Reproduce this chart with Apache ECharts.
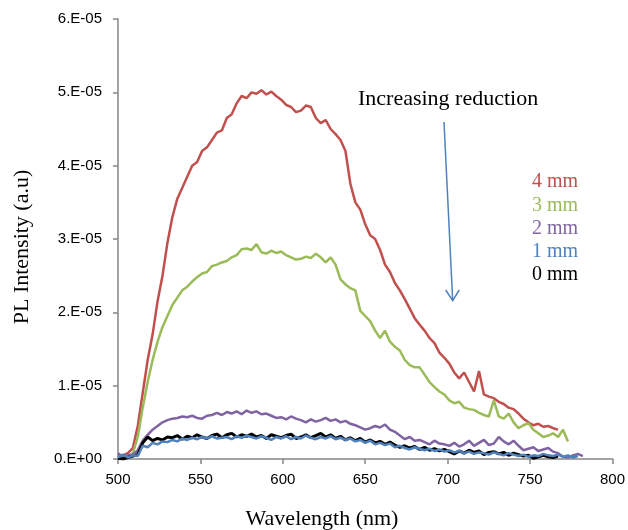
<!DOCTYPE html>
<html><head><meta charset="utf-8">
<script src="https://cdn.jsdelivr.net/npm/echarts@6/dist/echarts.min.js"></script>
<style>html,body{margin:0;padding:0;background:#fff}#c{width:628px;height:530px}</style>
</head><body><div id="c"></div>
<script>
// Wavelength grid (nm), shared by all series; each series covers a prefix of it
const wavelengths = [];
for (let w = 500; w <= 782; w += 3) wavelengths.push(w);
// Values in units of 1E-06 (a.u.)
const UNIT = 1e-6;
const mm4 = [0.3,0.5,0.8,1.5,4.5,9.0,13.5,17.0,21.5,25.0,29.5,33.0,35.5,37.0,38.5,40.0,40.5,42.0,42.5,43.5,44.5,44.8,46.5,47.0,48.5,49.5,49.2,50.0,49.8,50.3,49.7,50.1,49.5,49.0,48.3,48.0,47.3,47.5,48.2,48.0,46.5,45.8,46.2,45.0,44.3,43.5,42.0,37.5,35.0,34.0,32.0,30.5,30.0,28.5,26.5,25.5,24.0,23.0,21.8,20.5,19.2,18.3,17.5,16.5,15.8,14.5,13.8,13.0,11.8,11.0,11.8,10.5,9.2,12.0,8.8,8.5,8.3,7.8,7.5,7.0,6.8,6.2,5.5,5.0,4.6,4.8,4.4,4.5,4.2,4.0];
const mm3 = [0.1,0.0,0.2,0.8,3.0,7.0,10.5,13.5,16.0,18.0,19.5,21.0,22.0,23.0,23.5,24.2,24.8,25.3,25.5,26.3,26.5,26.8,27.0,27.5,27.8,28.6,28.7,28.5,29.3,28.2,28.0,28.4,28.1,28.3,27.8,27.5,27.2,27.3,27.6,27.4,28.0,27.5,26.8,27.5,26.5,24.5,23.8,23.3,23.0,20.2,19.5,18.8,17.5,16.5,17.5,16.0,15.3,14.8,13.5,12.8,12.5,12.5,11.5,10.5,9.8,9.2,8.8,8.0,7.6,7.8,7.0,6.8,6.7,6.3,6.0,5.8,8.0,5.8,5.5,6.2,5.0,4.2,4.6,4.9,4.0,3.5,3.0,3.2,3.5,3.0,4.0,2.4];
const mm2 = [0.8,0.3,0.5,0.6,1.2,2.5,3.3,4.0,4.5,5.0,5.3,5.5,5.6,5.8,5.7,5.9,5.6,5.5,5.9,6.0,6.3,6.0,6.4,6.2,6.5,6.1,6.6,6.3,6.5,6.1,6.2,5.9,5.6,5.7,5.4,5.8,5.5,5.3,5.0,5.4,5.1,5.3,5.6,5.2,5.4,5.0,5.2,4.8,4.6,4.3,4.0,4.2,4.5,4.3,4.7,4.0,3.7,3.2,2.7,3.0,2.5,2.6,2.3,2.0,2.5,2.1,2.0,1.8,2.2,1.7,2.0,2.5,1.8,2.2,2.6,1.9,2.1,3.0,2.4,2.0,2.5,1.8,1.2,1.4,1.6,1.1,1.3,1.5,1.0,0.8,0.3,0.2,0.5,0.7,0.4];
const mm1 = [0.2,0.6,0.2,0.5,0.4,1.8,1.6,2.2,2.0,2.4,2.3,2.6,2.4,2.8,2.6,2.9,2.7,3.0,2.8,3.1,2.8,2.9,3.0,2.7,3.1,2.9,3.2,3.0,2.8,3.1,2.9,2.6,3.0,2.8,3.1,2.7,3.0,2.8,3.2,2.9,2.7,3.0,2.8,3.1,2.7,2.9,2.6,2.8,2.4,2.6,2.2,2.5,2.0,2.2,1.9,2.1,1.6,1.8,1.5,1.3,1.6,1.4,1.2,1.4,1.1,1.3,1.0,1.2,0.9,1.1,0.8,1.0,0.7,0.9,0.8,0.6,0.9,0.7,0.5,0.8,0.6,0.4,0.6,0.3,0.5,0.4,0.7,0.5,0.4,0.6,0.3,0.5,0.2,0.4];
const mm0 = [0.1,0.0,0.2,0.4,0.6,2.2,3.0,2.5,2.8,2.6,3.0,2.9,3.2,2.7,3.1,2.9,3.3,3.0,2.8,3.2,3.4,2.9,3.3,3.5,3.0,3.3,3.1,3.4,3.0,3.2,2.8,3.3,3.1,2.9,3.2,3.4,2.8,3.0,3.3,2.9,3.2,3.5,3.0,3.3,2.8,3.1,2.6,2.9,2.5,2.8,2.3,2.6,2.2,2.4,2.0,2.3,1.9,1.6,1.8,1.5,1.7,1.3,1.6,1.2,1.4,1.1,1.3,1.0,0.7,1.1,0.8,1.2,0.9,1.1,0.6,0.9,1.0,0.7,0.9,0.5,0.8,0.6,0.4,0.5,0.1,0.3,0.5,0.3,0.2,0.4];
const seriesNames = ['4 mm','3 mm','2 mm','1 mm','0 mm'];
const seriesColors = ['#C0504D','#9BBB59','#8064A2','#4F81BD','#000000'];
const seriesValues = [mm4, mm3, mm2, mm1, mm0];
const xTicks = [500,550,600,650,700,750,800];
const yTickLabels = ['0.E+00','1.E-05','2.E-05','3.E-05','4.E-05','5.E-05','6.E-05'];
const annotationText = 'Increasing reduction';
const xTitle = 'Wavelength (nm)';
const yTitle = 'PL Intensity (a.u)';

const chart = echarts.init(document.getElementById('c'), null, {renderer:'canvas'});
const pairs = vals => vals.map((v,i)=>[wavelengths[i], v*UNIT]);
const drawOrder = [0,1,2,4,3];
const series = drawOrder.map(i => ({
  name: seriesNames[i], type:'line', data: pairs(seriesValues[i]),
  showSymbol:false, symbol:'none', smooth:false,
  lineStyle:{color:seriesColors[i], width: i===4?3:2.5},
  itemStyle:{color:seriesColors[i]}, z: 2, animation:false
}));
const serif = '"Liberation Serif","Times New Roman",serif';
const sans = '"Liberation Sans",Arial,sans-serif';
const axisColor = '#868686';
const legendGraphics = seriesNames.map((n,i)=>({
  type:'text', left:532, top:172+i*23.3,
  style:{text:n, fill:seriesColors[i], font:'20px '+serif}
}));
chart.setOption({
  animation:false,
  grid:{left:118, right:15, top:19, bottom:71, containLabel:false},
  xAxis:{type:'value', min:xTicks[0], max:xTicks[xTicks.length-1], interval:50,
    axisLine:{lineStyle:{color:axisColor, width:1.5}},
    axisTick:{show:true, length:5, lineStyle:{color:axisColor, width:1.5}},
    axisLabel:{fontFamily:sans, fontSize:15, color:'#000', margin:13},
    splitLine:{show:false}},
  yAxis:{type:'value', min:0, max:6e-5, interval:1e-5,
    axisLine:{show:true, lineStyle:{color:axisColor, width:1.5}},
    axisTick:{show:true, length:5, lineStyle:{color:axisColor, width:1.5}},
    axisLabel:{fontFamily:sans, fontSize:15, color:'#000', margin:16,
      formatter: v => yTickLabels[Math.round(v/1e-5)]},
    splitLine:{show:false}},
  series: series,
  graphic:[
    {type:'text', x:322, y:519, style:{text:xTitle, fill:'#000', font:'22px '+serif, textAlign:'center', textVerticalAlign:'middle', align:'center', verticalAlign:'middle'}},
    {type:'text', x:22, y:247, rotation:Math.PI/2, style:{text:yTitle, fill:'#000', font:'22px '+serif, textAlign:'center', textVerticalAlign:'middle', align:'center', verticalAlign:'middle'}},
    {type:'text', left:358, top:88, style:{text:annotationText, fill:'#000', font:'22px '+serif}},
    {type:'line', shape:{x1:444, y1:122, x2:452.7, y2:300.7}, style:{stroke:'#4F81BD', lineWidth:1.5}},
    {type:'polyline', shape:{points:[[445.7,290],[452.7,300.7],[459.3,290]]}, style:{stroke:'#4F81BD', lineWidth:1.5, fill:null}}
  ].concat(legendGraphics)
});
</script></body></html>
